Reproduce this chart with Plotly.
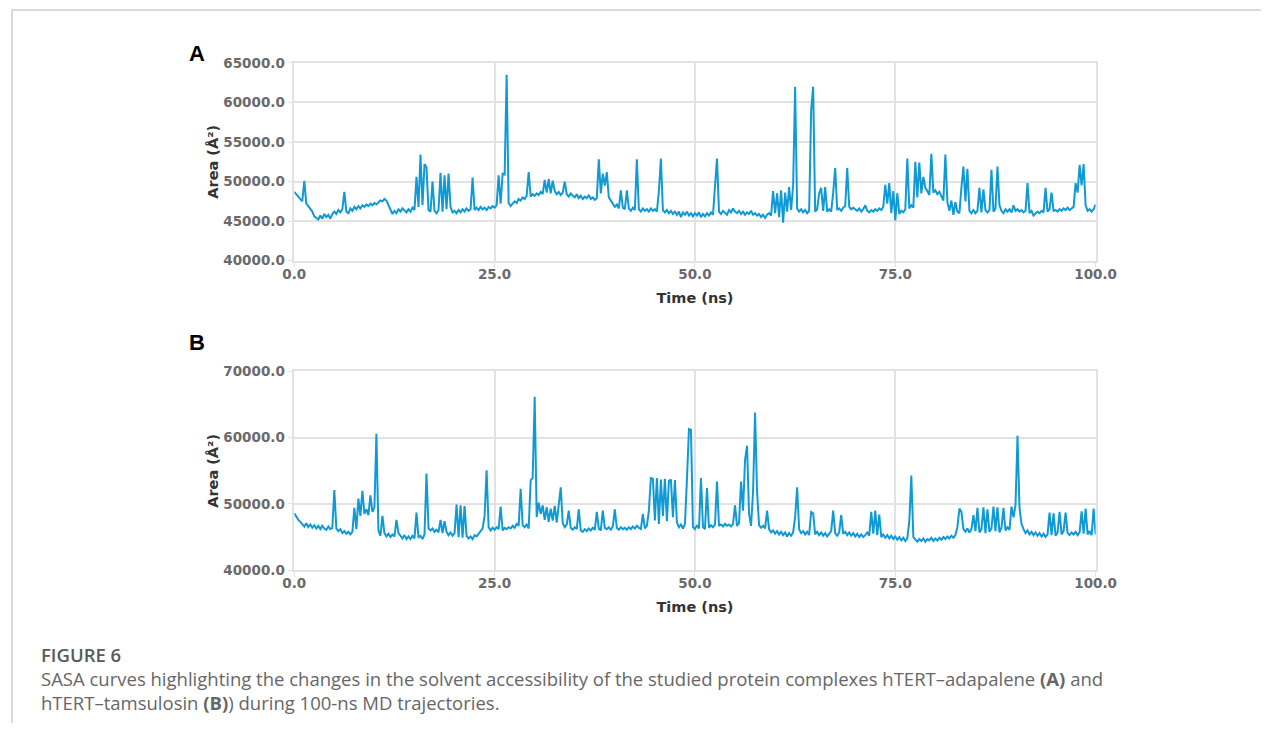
import numpy as np
import plotly.graph_objects as go

# ---------------- data ----------------
time_ns = np.linspace(0, 100, 401)  # 0.25 ns sampling

area_a = [
    48700, 48400, 48100, 47800, 47500, 50100, 47200, 46900, 46600, 46200,
    45600, 45400, 45200, 45700, 45300, 45900, 45500, 45800, 45300, 45900,
    46200, 45900, 46400, 46100, 46500, 48700, 46200, 46000, 46600, 46300,
    46800, 46500, 46900, 46600, 47000, 46800, 47100, 46900, 47200, 47000,
    47300, 47100, 47400, 47600, 47500, 47800, 47600, 47000, 46400, 45900,
    46300, 46000, 46500, 46200, 46600, 46300, 46100, 46500, 46200, 46700,
    46400, 50600, 46800, 53400, 47000, 52200, 51800, 46400, 46200, 50000,
    46300, 46000, 46400, 51100, 46200, 50800, 46500, 51000, 46800, 46100,
    46300, 46000, 46400, 46100, 46500, 46200, 46600, 46300, 46500, 50500,
    46400, 46700, 46400, 46800, 46500, 46700, 46400, 46800, 46600, 46900,
    46700, 47000, 50800, 47200, 51000, 50900, 63500, 47300, 46900, 47200,
    47500, 47300, 47800, 47600, 48000, 47800, 48200, 51200, 48100, 48400,
    48200, 48500, 48300, 48700, 48400, 50200, 48600, 50300, 48500, 50100,
    48800, 48400, 48700, 48300, 48600, 50000, 48400, 48100, 48500, 48200,
    48000, 48400, 47900, 48200, 47800, 48100, 47900, 48300, 47800, 48000,
    47700, 47900, 52800, 48500, 51000, 49500, 51200, 48000, 47600, 47200,
    46800, 47100, 46600, 48900, 46700, 46500, 48900, 46600, 46300, 46700,
    46400, 52800, 46500, 46200, 46600, 46300, 46500, 46200, 46600, 46300,
    46500, 46200, 48800, 52900, 46400, 46100, 46400, 46000, 46300, 45900,
    46200, 45800, 46200, 45500, 46100, 45800, 46200, 45700, 46000, 45600,
    46000, 45700, 46100, 45500, 45900, 45600, 46000, 45700, 46100, 45800,
    48800, 52900, 46200, 45900, 46300, 46000, 45800, 46400, 46100, 46600,
    46200, 46000, 46300, 45900, 46200, 45800, 46100, 45900, 46300, 45800,
    46000, 45700, 45900, 45500, 45800, 45400, 45800, 46000, 45700, 48800,
    46000, 48500, 45500, 48900, 44800, 48600, 46200, 49300, 46400, 49500,
    62000, 46600, 46200, 46500, 46100, 46400, 46000, 46300, 59000, 62000,
    46200, 46500, 48500, 49200, 46300, 49300, 46200, 46500, 46200, 48600,
    51700, 46400, 46600, 46300, 46700, 46900, 51700, 46800, 46500, 46700,
    46500, 46300, 46600, 46200, 46500, 47000, 46300, 46100, 46400, 46200,
    46500, 46300, 46600, 46400, 46800, 49600, 47200, 49800, 46000, 48800,
    45100, 48500, 45900, 46300, 46100, 46500, 52900, 46600, 47000, 46700,
    52500, 48000, 52400, 48500, 50600, 49200, 48800, 48300, 53500, 48600,
    48900, 48400, 48700, 48200, 47600, 53400, 47400, 46300, 47600, 45800,
    47400, 46200, 46000, 49200, 51900, 47500, 51600, 46300, 46000, 46400,
    46000, 46300, 49200, 46100, 49000, 46400, 46100, 46400, 51500, 46200,
    46600, 51900, 47000, 46300, 46000, 46500, 46200, 46500, 46100, 47000,
    46300, 46500, 46200, 46400, 46100, 46300, 49800, 46000, 46300, 45700,
    45900, 46200, 46000, 46300, 46100, 49200, 46200, 46500, 48600, 46300,
    46400, 46200, 46500, 46300, 46600, 46400, 46700, 46400, 46600, 46800,
    49800, 48600, 52100, 49500, 52200, 47000, 46300, 46500, 46200, 46500,
    47100,
]

area_b = [
    48600, 48000, 47600, 47300, 47000, 46600, 47100, 46500, 46900, 46400,
    46800, 46300, 46700, 46200, 46700, 46300, 46100, 46600, 46200, 46400,
    52100, 46300, 45900, 46200, 45600, 45900, 45500, 45800, 45400, 45800,
    49400, 46200, 50800, 48200, 52000, 48500, 49200, 48300, 51300, 48800,
    49500, 60600, 46000, 45200, 48200, 45600, 45100, 45500, 45000, 45400,
    45100, 47600, 45600, 45200, 44800, 45300, 44700, 45100, 44700, 45200,
    44800, 48700, 44900, 45200, 44700, 45400, 54600, 46300, 46000, 46300,
    45800, 46100, 45700, 47600, 45600, 47400, 45800, 45300, 45700, 45200,
    45600, 49900, 45000, 49800, 44900, 49700, 45200, 44800, 45100, 44700,
    45300, 45100, 45500, 45800, 46300, 48200, 55100, 46500, 46000, 46400,
    46100, 46500, 46200, 49600, 46000, 46400, 46200, 46500, 46300, 46700,
    46400, 47000, 46700, 52300, 46800, 46500, 46900, 46300, 53600, 53900,
    66200, 48000, 50200, 48500, 49800, 47600, 49500, 47300, 49300, 47500,
    49700, 47200, 49600, 52500, 47100, 46500, 46900, 49000, 46400, 46100,
    46500, 46200, 49200, 46000, 45800, 46200, 45900, 46300, 46000, 46400,
    46100, 48800, 46300, 46000, 49000, 46400, 46200, 46500, 46100, 46600,
    49200, 46400, 46100, 46500, 46200, 46400, 46100, 46500, 46200, 46600,
    46300, 46700, 46400, 46200, 48500, 46300, 46700, 49000, 53900, 53800,
    47500, 53900, 47000, 53700, 48200, 53800, 47400, 53500, 53700, 48000,
    53600, 47200, 46500, 46900, 46300, 47000, 53700, 61300, 61200, 46500,
    46200, 46800, 46300, 53900, 46500, 46200, 52400, 46400, 46800, 46500,
    46900, 53400, 46700, 46900, 46600, 47000, 46700, 46900, 46600, 47000,
    49800, 46700, 47100, 53400, 49000, 56600, 58800, 48500, 46700, 51800,
    63800, 51800, 46800, 46400, 46700, 46300, 49000, 46200, 45700, 46000,
    45500, 45900, 45400, 45800, 45300, 45700, 45100, 45600, 45200, 45700,
    48000, 52500, 46200, 45600, 45900, 45400, 45800, 45300, 48800, 48600,
    45400, 45800, 45300, 45700, 45200, 45600, 45100, 45500, 45900, 49000,
    45600, 45200, 45700, 48300, 45500, 45800, 45300, 45700, 45200, 45600,
    45100, 45500, 45000, 45400, 45000, 45300, 45700, 45200, 48800, 45500,
    49000, 45300, 48400, 45000, 45400, 44900, 45300, 44800, 45200, 44700,
    45100, 44600, 45000, 44500, 44900, 44400, 44800, 47400, 54300, 45000,
    44600, 44300, 44700, 44400, 44800, 44300, 44700, 44500, 44900, 44400,
    44800, 44500, 44900, 44600, 45000, 44700, 45100, 44800, 45200, 44900,
    45300, 46500, 49300, 48800, 46200, 45800, 46300, 45700, 46200, 48300,
    45900, 49400, 45700, 46200, 49500, 45600, 49200, 45800, 46300, 49600,
    45900, 49500, 45700, 46400, 49400, 46000, 46500, 46100, 49600, 48000,
    49800, 60300, 49400, 47000, 46200, 45600, 46000, 45400, 45800, 45300,
    45700, 45200, 45600, 45100, 45500, 45000, 45400, 48700, 45300, 48600,
    45200, 45700, 48800, 45400, 45900, 48700, 45600, 45300, 45700, 45400,
    45800, 45300, 45700, 48900, 45500, 49300, 45400, 45900, 45300, 49300,
    45400,
]

x_ticks = [0, 25, 50, 75, 100]
y_ticks_a = [40000, 45000, 50000, 55000, 60000, 65000]
y_ticks_b = [40000, 50000, 60000, 70000]
panel_labels = ["A", "B"]
x_title = "Time (ns)"
y_title = "Area (Å²)"
caption_head = "FIGURE 6"
caption_l1 = ("SASA curves highlighting the changes in the solvent accessibility of the studied "
              "protein complexes hTERT–adapalene <b>(A)</b> and")
caption_l2 = "hTERT–tamsulosin <b>(B)</b>) during 100-ns MD trajectories."

# ---------------- figure ----------------
W, H = 1282, 731
# the page is drawn into an area of about 1250 x 716 px with a small offset
EFF_W, EFF_H, OFF_X, OFF_Y = 1250.0, 716.0, 11.5, 7.0
LINE = "#0f9ad6"
GRID = "#e2e2e2"
TICKFONT = dict(family="DejaVu Sans", size=13.5, color="#6a6a6a", weight="bold")
TITLEFONT = dict(family="DejaVu Sans", size=14.5, color="#333333", weight="bold")


def px_x(p):
    return min(max((p - OFF_X) / EFF_W, 0), 1)


def px_y(p):
    return min(max(1 - (p - OFF_Y) / EFF_H, 0), 1)


fig = go.Figure()
fig.add_trace(go.Scatter(x=time_ns, y=area_a, mode="lines", xaxis="x", yaxis="y",
                         line=dict(color=LINE, width=2), showlegend=False))
fig.add_trace(go.Scatter(x=time_ns, y=area_b, mode="lines", xaxis="x2", yaxis="y2",
                         line=dict(color=LINE, width=2), showlegend=False))

xdom = [px_x(294), px_x(1096)]
common_x = dict(range=[0, 100], tickvals=x_ticks, tickformat=".1f", showgrid=True,
                gridcolor=GRID, gridwidth=1.5, showline=True, mirror=True, linecolor=GRID,
                linewidth=1.5, ticks="outside", ticklen=5, tickcolor=GRID, tickfont=TICKFONT,
                ticklabelstandoff=-5,
                zeroline=False, title=dict(text=x_title, font=TITLEFONT, standoff=12))
common_y = dict(tickformat=".1f", showgrid=True, gridcolor=GRID, gridwidth=1.5,
                showline=True, mirror=True, linecolor=GRID, linewidth=1.5,
                ticks="outside", ticklen=5, tickcolor=GRID, tickfont=TICKFONT,
                zeroline=False, title=dict(text=y_title, font=TITLEFONT, standoff=1))

fig.update_layout(
    width=W, height=H, margin=dict(l=0, r=0, t=0, b=0),
    paper_bgcolor="white", plot_bgcolor="white",
    xaxis=dict(domain=xdom, anchor="y", **common_x),
    yaxis=dict(domain=[px_y(260), px_y(62)], anchor="x", range=[40000, 65000],
               tickvals=y_ticks_a, **common_y),
    xaxis2=dict(domain=xdom, anchor="y2", **common_x),
    yaxis2=dict(domain=[px_y(570), px_y(371)], anchor="x2", range=[40000, 70000],
                tickvals=y_ticks_b, **common_y),
)

# panel letters
for lab, ypx in zip(panel_labels, [53, 342]):
    fig.add_annotation(text=lab, x=px_x(197), y=px_y(ypx), xref="paper", yref="paper",
                       showarrow=False, xanchor="center", yanchor="middle",
                       font=dict(family="Liberation Sans", size=22, color="#000000", weight="bold"))

# caption
fig.add_annotation(text=caption_head, x=px_x(39), y=px_y(654), xref="paper", yref="paper",
                   showarrow=False, xanchor="left", yanchor="middle",
                   font=dict(family="Open Sans", size=18.5, color="#5a5a5a", weight=600))
for txt, ypx in [(caption_l1, 678), (caption_l2, 702)]:
    fig.add_annotation(text=txt, x=px_x(39), y=px_y(ypx), xref="paper", yref="paper",
                       showarrow=False, xanchor="left", yanchor="middle", align="left",
                       font=dict(family="Open Sans", size=18.5, color="#666666"))

# frame lines (top and left)
fig.add_shape(type="line", xref="paper", yref="paper", x0=px_x(9), x1=1, y0=px_y(9), y1=px_y(9),
              line=dict(color="#cccccc", width=1.5))
fig.add_shape(type="line", xref="paper", yref="paper", x0=px_x(9), x1=px_x(9), y0=0, y1=px_y(9),
              line=dict(color="#cccccc", width=1.5))

fig.write_html("out.html")
